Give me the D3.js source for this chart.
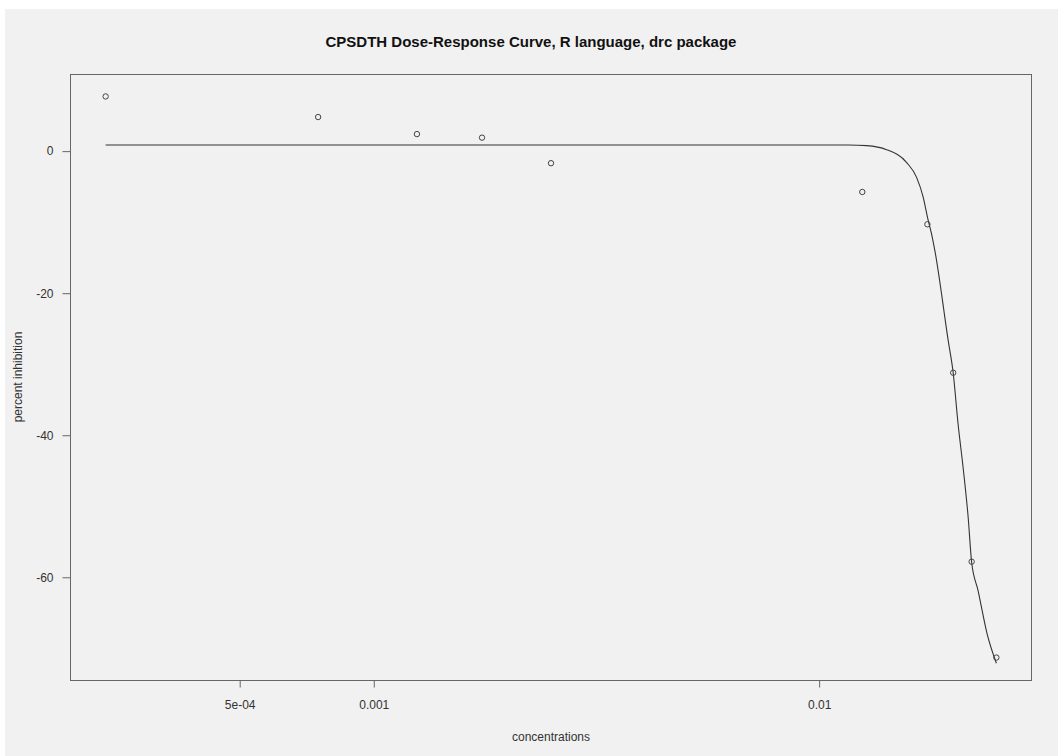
<!DOCTYPE html>
<html>
<head>
<meta charset="utf-8">
<script src="https://cdn.jsdelivr.net/npm/d3@7"></script>
<style>
  html, body { margin: 0; padding: 0; background: #ffffff; }
  svg { display: block; }
</style>
</head>
<body>
<script>
// Observed data points
const concentrations = [0.00025, 0.00075, 0.00125, 0.00175, 0.0025, 0.0125, 0.0175, 0.02, 0.022, 0.025];
const inhibition = [7.7, 4.8, 2.4, 1.9, -1.7, -5.75, -10.3, -31.2, -57.8, -71.3];

// Fitted curve
const curveConc = [0.00025, 0.001, 0.005, 0.01, 0.01162, 0.01278, 0.01417, 0.01571, 0.01655, 0.01713, 0.01751, 0.01788, 0.01819, 0.01949, 0.02, 0.02051, 0.02105, 0.02161, 0.02199, 0.02275, 0.02384, 0.025];
const curveResp = [0.87, 0.87, 0.87, 0.87, 0.86, 0.77, 0.21, -1.58, -3.69, -6.51, -9.32, -11.66, -14.01, -26.69, -31.24, -38.42, -44.54, -51.58, -57.77, -61.9, -68.0, -72.1];

const xTicks = [0.0005, 0.001, 0.01];
const xTickLabels = ["5e-04", "0.001", "0.01"];
const yTicks = [0, -20, -40, -60];
const yTickLabels = ["0", "-20", "-40", "-60"];

const W = 1058, H = 756;
const mLeft = 70, mRight = 1032, mTop = 74, mBottom = 680;

const svg = d3.select("body").append("svg").attr("width", W).attr("height", H);
svg.append("rect").attr("x", 0).attr("y", 0).attr("width", W).attr("height", H).attr("fill", "#ffffff");
svg.append("rect").attr("x", 5).attr("y", 9).attr("width", W - 5).attr("height", H - 9).attr("fill", "#f1f1f1");

// R-style 4% range extension
const lx = d3.extent(concentrations).map(Math.log10);
const dx = (lx[1] - lx[0]) * 0.04;
const x = d3.scaleLog().domain([Math.pow(10, lx[0] - dx), Math.pow(10, lx[1] + dx)]).range([mLeft, mRight]);
const ye = d3.extent(inhibition);
const dy = (ye[1] - ye[0]) * 0.04;
const y = d3.scaleLinear().domain([ye[0] - dy, ye[1] + dy]).range([mBottom, mTop]);

const font = "'Liberation Sans', Arial, sans-serif";

// box
svg.append("rect").attr("x", mLeft + 0.5).attr("y", mTop + 0.5)
  .attr("width", mRight - mLeft - 1).attr("height", mBottom - mTop)
  .attr("fill", "none").attr("stroke", "#666").attr("stroke-width", 1);

// x axis
const xAxis = d3.axisBottom(x).tickValues(xTicks).tickFormat((d, i) => xTickLabels[i]).tickSize(7).tickPadding(13);
const gx = svg.append("g").attr("transform", `translate(0,${mBottom + 0.5})`).call(xAxis);
gx.select(".domain").remove();
gx.selectAll("line").attr("stroke", "#666");
gx.selectAll("text").attr("font-family", font).attr("font-size", 12).attr("fill", "#333");

// y axis
const yAxis = d3.axisLeft(y).tickValues(yTicks).tickFormat((d, i) => yTickLabels[i]).tickSize(8).tickPadding(9);
const gy = svg.append("g").attr("transform", `translate(${mLeft + 0.5},0)`).call(yAxis);
gy.select(".domain").remove();
gy.selectAll("line").attr("stroke", "#666");
gy.selectAll("text").attr("font-family", font).attr("font-size", 12).attr("fill", "#333");

// curve
const line = d3.line().x(d => x(d[0])).y(d => y(d[1])).curve(d3.curveMonotoneX);
svg.append("path").datum(curveConc.map((c, i) => [c, curveResp[i]]))
  .attr("d", line).attr("fill", "none").attr("stroke", "#333").attr("stroke-width", 1.1);

// points
svg.append("g").selectAll("circle").data(concentrations.map((c, i) => [c, inhibition[i]]))
  .join("circle").attr("cx", d => x(d[0])).attr("cy", d => y(d[1])).attr("r", 2.7)
  .attr("fill", "none").attr("stroke", "#444").attr("stroke-width", 1);

// title & labels
svg.append("text").attr("x", 531).attr("y", 47).attr("text-anchor", "middle")
  .attr("font-family", font).attr("font-weight", "bold").attr("font-size", 15).attr("fill", "#111")
  .text("CPSDTH Dose-Response Curve, R language, drc package");
svg.append("text").attr("x", (mLeft + mRight) / 2).attr("y", 741).attr("text-anchor", "middle")
  .attr("font-family", font).attr("font-size", 12).attr("fill", "#333").text("concentrations");
svg.append("text").attr("transform", `translate(22,${(mTop + mBottom) / 2}) rotate(-90)`).attr("text-anchor", "middle")
  .attr("font-family", font).attr("font-size", 12).attr("fill", "#333").text("percent inhibition");
</script>
</body>
</html>
